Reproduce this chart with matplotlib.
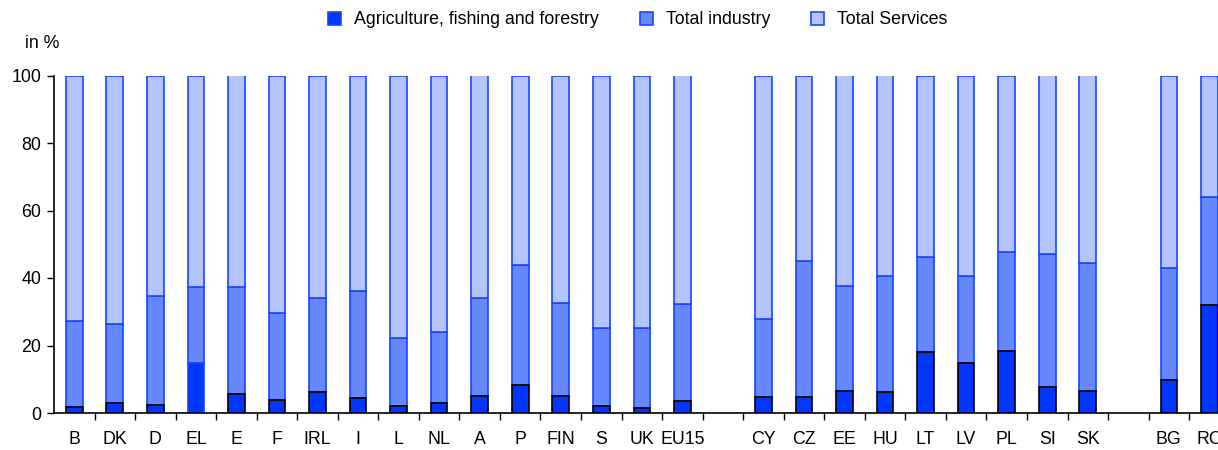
import numpy as np
import matplotlib
matplotlib.use('Agg')
import matplotlib.pyplot as plt

plt.rcParams['font.family'] = ['Liberation Sans', 'DejaVu Sans']

# country groups (a blank slot is left between groups)
eu15 = ['B', 'DK', 'D', 'EL', 'E', 'F', 'IRL', 'I', 'L', 'NL', 'A', 'P', 'FIN', 'S', 'UK', 'EU15']
nms = ['CY', 'CZ', 'EE', 'HU', 'LT', 'LV', 'PL', 'SI', 'SK']
acc = ['BG', 'RO']

# shares of employment, in %
agri_eu15 = [1.7, 3.0, 2.4, 14.7, 5.6, 4.0, 6.1, 4.5, 2.1, 3.1, 5.1, 8.2, 5.1, 2.0, 1.6, 3.6]
ind_eu15 = [25.6, 23.3, 32.3, 22.5, 31.6, 25.5, 28.0, 31.7, 20.0, 20.9, 29.1, 35.7, 27.4, 23.3, 23.7, 28.6]
agri_nms = [4.6, 4.6, 6.6, 6.1, 18.0, 14.9, 18.5, 7.6, 6.6]
ind_nms = [23.3, 40.5, 31.1, 34.4, 28.1, 25.6, 29.1, 39.4, 37.9]
agri_acc = [9.8, 32.0]
ind_acc = [33.2, 32.1]

countries = eu15 + nms + acc
agri = np.array(agri_eu15 + agri_nms + agri_acc)
ind = np.array(ind_eu15 + ind_nms + ind_acc)
serv = 100.0 - agri - ind

pos = list(range(len(eu15)))
pos += [len(eu15) + 1 + i for i in range(len(nms))]
pos += [len(eu15) + len(nms) + 2 + i for i in range(len(acc))]
pos = np.array(pos)
nslots = pos[-1] + 1

c_agri = '#0036ff'
c_ind = '#6688ff'
c_serv = '#b3c4ff'
c_edge = '#1a45ff'

fig = plt.figure(figsize=(12.18, 4.5), dpi=100)
ax = fig.add_axes([54 / 1218, 37 / 450, (nslots * 40.54) / 1218, 337.5 / 450])

w = 0.41
agri_edges = [c_edge if c == 'EL' else 'black' for c in countries]
ax.bar(pos, agri, w, color=c_agri, edgecolor=agri_edges, linewidth=1.2,
       label='Agriculture, fishing and forestry', zorder=3)
ax.bar(pos, ind, w, bottom=agri, color=c_ind, edgecolor=c_edge, linewidth=1.2,
       label='Total industry', zorder=2)
ax.bar(pos, serv, w, bottom=agri + ind, color=c_serv, edgecolor=c_edge, linewidth=1.2,
       label='Total Services', zorder=2)

fs = 12.8
ax.set_xlim(-0.5, nslots - 0.5)
ax.set_ylim(0, 100)
ax.set_yticks(np.arange(0, 101, 20))
ax.set_xticks(pos)
ax.set_xticklabels(countries)
ax.set_xticks(np.arange(0.5, nslots - 0.5, 1.0), minor=True)
ax.tick_params(axis='x', which='major', length=0, pad=13, labelsize=fs)
ax.tick_params(axis='x', which='minor', length=5, width=1.0, direction='out')
ax.tick_params(axis='y', length=5, width=1.0, labelsize=fs, pad=4)
for s in ['top', 'right']:
    ax.spines[s].set_visible(False)
for s in ['left', 'bottom']:
    ax.spines[s].set_linewidth(1.2)
ax.spines['bottom'].set_zorder(5)

fig.text(25 / 1218, 1 - 43 / 450, 'in %', fontsize=fs, va='center', ha='left')

handles, labels = ax.get_legend_handles_labels()
leg = fig.legend(handles, labels, loc='center', bbox_to_anchor=(638 / 1218, 1 - 20 / 450),
                 ncol=3, frameon=False, fontsize=fs, handlelength=0.72, handleheight=0.72,
                 handletextpad=0.75, columnspacing=2.3)
for h in leg.legend_handles:
    h.set_edgecolor(c_edge)

fig.savefig('out.png', dpi=100)
